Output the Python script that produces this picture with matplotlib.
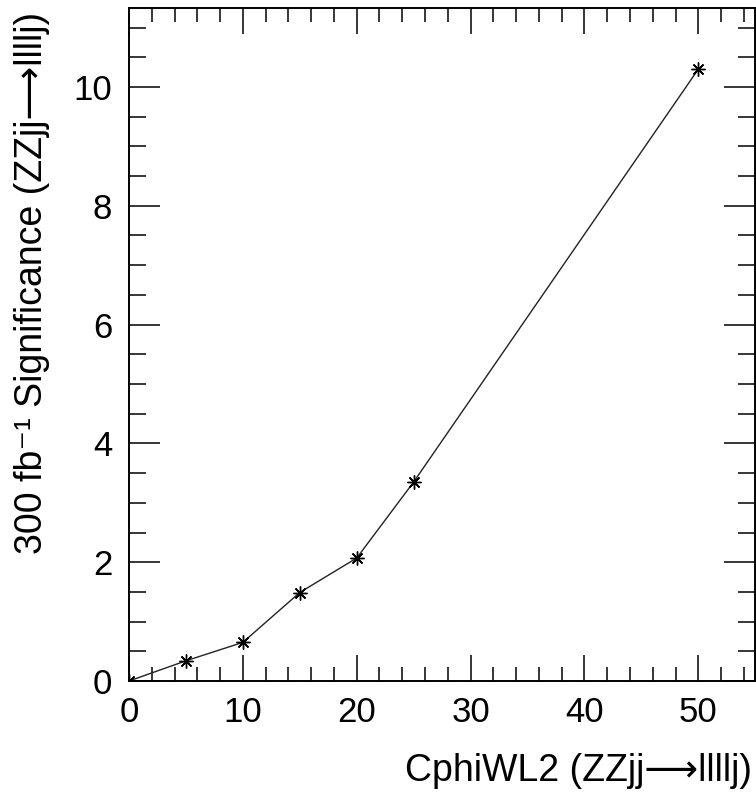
import matplotlib
matplotlib.use('Agg')
import matplotlib.pyplot as plt
from matplotlib.ticker import MultipleLocator

# Font setup: Helvetica-like text, DejaVu picks up the long arrow glyph
plt.rcParams['font.family'] = ['Liberation Sans', 'DejaVu Sans']

# Coupling values and the corresponding significance
cphiwl2 = [0, 5, 10, 15, 20, 25, 50]
significance = [0.0, 0.34, 0.65, 1.49, 2.07, 3.35, 10.30]

fig = plt.figure(figsize=(7.56, 7.98), dpi=100)
ax = fig.add_axes([0.1706, 0.1466, 0.8284, 0.8434])

ax.plot(cphiwl2, significance, color='#222222', linewidth=1.0,
        marker=(8, 2, 0), markersize=10, markeredgewidth=1.0,
        markeredgecolor='black', markerfacecolor='black')

ax.set_xlim(0, 55)
ax.set_ylim(0, 11.33)

# ticks on all four sides, pointing inward
ax.xaxis.set_major_locator(MultipleLocator(10))
ax.xaxis.set_minor_locator(MultipleLocator(2))
ax.yaxis.set_major_locator(MultipleLocator(2))
ax.yaxis.set_minor_locator(MultipleLocator(0.5))
ax.tick_params(which='both', direction='in', top=True, right=True,
               labelsize=25, width=1.1, colors='black')
ax.tick_params(axis='x', which='major', length=19, pad=11)
ax.tick_params(axis='x', which='minor', length=10)
ax.tick_params(axis='y', which='major', length=22, pad=12)
ax.tick_params(axis='y', which='minor', length=12)

for spine in ax.spines.values():
    spine.set_linewidth(1.4)

ax.set_xlabel('CphiWL2 (ZZjj\u27f6llllj)', fontsize=27)
ax.xaxis.set_label_coords(0.995, -0.133)
ax.xaxis.label.set_horizontalalignment('right')
ax.xaxis.label.set_verticalalignment('center')

ax.set_ylabel('300 fb\u207b\u00b9 Significance (ZZjj\u27f6llllj)', fontsize=27)
ax.yaxis.set_label_coords(-0.155, 0.994)
ax.yaxis.label.set_verticalalignment('center')
ax.yaxis.label.set_horizontalalignment('right')

fig.savefig('out.png', dpi=100)
